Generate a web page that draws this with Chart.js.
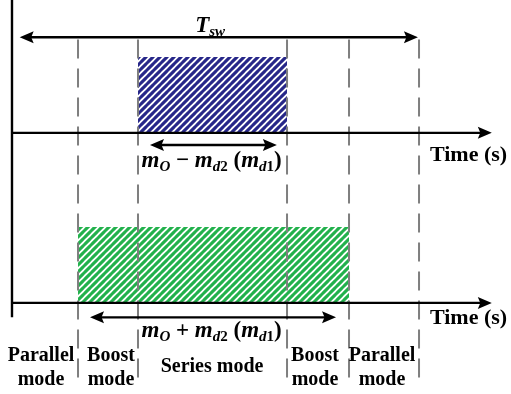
<!DOCTYPE html>
<html>
<head>
<meta charset="utf-8">
<script src="https://cdn.jsdelivr.net/npm/chart.js@4"></script>
<style>
  html, body { margin: 0; padding: 0; background: #ffffff; }
  #wrap { width: 511px; height: 394px; }
</style>
</head>
<body>
<div id="wrap"><canvas id="c" width="511" height="394"></canvas></div>
<script>
// Time instants (arbitrary units) where the operating mode changes
const modeBoundaries = [13.76, 26.26, 57.32, 70.24, 84.83];
// Switching period span
const periodSpan = [1.6, 84.6];
// Gate pulses: [start, end]
const seriesPulse = [26.26, 57.32];     // upper trace
const boostPulse = [13.76, 70.24];      // lower trace
// Trace baselines and pulse height
const traceBase = [2.24, 0];
const pulseHeight = 1;
// Duration arrows under each trace: [start, end]
const upperSpan = [28.76, 55.2];
const lowerSpan = [16.26, 67.53];
// Time axis extent
const timeAxisEnd = 100;
// Mode names and where each is centred on the time axis
const modeLabels = [["Parallel", "mode"], ["Boost", "mode"], ["Series mode"], ["Boost", "mode"], ["Parallel", "mode"]];
const modeLabelAt = [6.05, 20.63, 41.69, 63.15, 77.12];
const timeAxisTitle = "Time (s)";

const SERIF = '"Liberation Serif", "Times New Roman", serif';

function hatch(color) {
  const p = 7;
  const cv = document.createElement('canvas');
  cv.width = p; cv.height = p;
  const g = cv.getContext('2d');
  g.fillStyle = '#ffffff';
  g.fillRect(0, 0, p, p);
  g.strokeStyle = color;
  g.lineWidth = 3.1;
  g.beginPath();
  g.moveTo(-1, p + 1); g.lineTo(p + 1, -1);
  g.moveTo(-1, 1); g.lineTo(1, -1);
  g.moveTo(p - 1, p + 1); g.lineTo(p + 1, p - 1);
  g.stroke();
  return g.createPattern(cv, 'repeat');
}

const ctx0 = document.getElementById('c').getContext('2d');

const pulseSet = (span, base, color) => ({
  data: [{x: span[0], y: base + pulseHeight}, {x: span[1], y: base + pulseHeight}],
  fill: {value: base},
  backgroundColor: hatch(color),
  borderWidth: 0,
  pointRadius: 0,
  order: 10
});

const dashTop = 3.47, dashBottom = -1.08;
const datasets = [
  pulseSet(seriesPulse, traceBase[0], '#272789'),
  pulseSet(boostPulse, traceBase[1], '#22b14c'),
  ...modeBoundaries.map(t => ({
    data: [{x: t, y: dashTop}, {x: t, y: dashBottom}],
    borderColor: '#7f7f7f',
    borderWidth: 2,
    borderDash: [19, 10],
    pointRadius: 0,
    fill: false,
    order: 5
  }))
];

function arrowHead(ctx, x, y, dir) {
  // dir: unit vector pointing toward the tip
  const L = 14, W = 6, notch = 2.5;
  const [dx, dy] = dir;
  const px = -dy, py = dx;
  ctx.beginPath();
  ctx.moveTo(x, y);
  ctx.lineTo(x - dx * L + px * W, y - dy * L + py * W);
  ctx.lineTo(x - dx * (L - notch), y - dy * (L - notch));
  ctx.lineTo(x - dx * L - px * W, y - dy * L - py * W);
  ctx.closePath();
  ctx.fill();
}

function hArrow(ctx, x1, x2, y, both) {
  ctx.beginPath();
  ctx.moveTo(both ? x1 + 8 : x1, y);
  ctx.lineTo(x2 - 8, y);
  ctx.stroke();
  arrowHead(ctx, x2, y, [1, 0]);
  if (both) arrowHead(ctx, x1, y, [-1, 0]);
}

function runs(ctx, parts, cx, baseline) {
  let w = 0;
  parts.forEach(r => { ctx.font = r.f; w += ctx.measureText(r.t).width; });
  let x = cx - w / 2;
  ctx.textAlign = 'left';
  ctx.textBaseline = 'alphabetic';
  parts.forEach(r => {
    ctx.font = r.f;
    ctx.fillText(r.t, x, baseline + (r.dy || 0));
    x += ctx.measureText(r.t).width;
  });
}

const BI = s => `bold italic ${s}px ${SERIF}`;
const B = s => `bold ${s}px ${SERIF}`;
const spanLabel = sign => [
  {t: 'm', f: BI(23)}, {t: 'O', f: BI(15), dy: 4},
  {t: ' ' + sign + ' ', f: B(23)},
  {t: 'm', f: BI(23)}, {t: 'd', f: BI(15), dy: 4}, {t: '2', f: B(15), dy: 4},
  {t: ' (', f: B(23)},
  {t: 'm', f: BI(23)}, {t: 'd', f: BI(15), dy: 4}, {t: '1', f: B(15), dy: 4},
  {t: ')', f: B(23)}
];

const diagram = {
  id: 'diagram',
  afterDatasetsDraw(chart) {
    const {ctx, scales: {x, y}} = chart;
    ctx.save();
    ctx.strokeStyle = '#000';
    ctx.fillStyle = '#000';
    ctx.lineWidth = 2.4;
    // vertical axis
    ctx.beginPath();
    ctx.moveTo(x.getPixelForValue(0), y.top);
    ctx.lineTo(x.getPixelForValue(0), y.getPixelForValue(-0.19));
    ctx.stroke();
    // time axes
    traceBase.forEach(b => hArrow(ctx, x.getPixelForValue(0), x.getPixelForValue(timeAxisEnd), y.getPixelForValue(b), false));
    // period and duration arrows
    hArrow(ctx, x.getPixelForValue(periodSpan[0]), x.getPixelForValue(periodSpan[1]), y.getPixelForValue(3.5), true);
    hArrow(ctx, x.getPixelForValue(upperSpan[0]), x.getPixelForValue(upperSpan[1]), y.getPixelForValue(traceBase[0] - 0.16), true);
    hArrow(ctx, x.getPixelForValue(lowerSpan[0]), x.getPixelForValue(lowerSpan[1]), y.getPixelForValue(traceBase[1] - 0.19), true);

    // T_sw
    runs(ctx, [{t: 'T', f: BI(23)}, {t: 'sw', f: BI(15), dy: 4}], x.getPixelForValue(41.3), 32);

    // Time (s)
    ctx.font = B(22);
    ctx.textAlign = 'left';
    const titleDrop = [28, 21];
    traceBase.forEach((b, i) => ctx.fillText(timeAxisTitle, x.getPixelForValue(87.1), y.getPixelForValue(b) + titleDrop[i]));

    // duration labels
    const cxs = x.getPixelForValue(41.6);
    runs(ctx, spanLabel('\u2212'), cxs, y.getPixelForValue(traceBase[0]) + 34);
    runs(ctx, spanLabel('+'), cxs, y.getPixelForValue(traceBase[1]) + 34);

    // mode names
    ctx.font = B(20);
    ctx.textAlign = 'center';
    modeLabels.forEach((lines, i) => {
      const c = x.getPixelForValue(modeLabelAt[i]);
      if (lines.length === 1) {
        ctx.fillText(lines[0], c, 372);
      } else {
        ctx.fillText(lines[0], c, 361);
        ctx.fillText(lines[1], c, 385);
      }
    });
    ctx.restore();
  }
};

new Chart(ctx0, {
  type: 'scatter',
  data: {datasets},
  options: {
    responsive: false,
    animation: false,
    showLine: true,
    layout: {padding: 0},
    plugins: {legend: {display: false}, tooltip: {enabled: false}},
    scales: {
      x: {type: 'linear', min: -2.5, max: 104, display: false},
      y: {type: 'linear', min: -1.2, max: 3.99, display: false}
    }
  },
  plugins: [diagram]
});
</script>
</body>
</html>
